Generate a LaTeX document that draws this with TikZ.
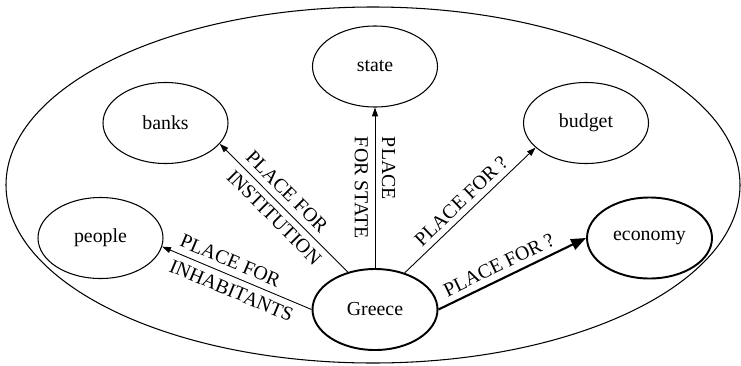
\documentclass[tikz,border=0pt]{standalone}
\usepackage{fontspec}
\setmainfont{Liberation Serif}
\usepackage{tikz}
\usetikzlibrary{arrows.meta,shapes.geometric}

\begin{document}
\begin{tikzpicture}[
  every node/.style={font=\fontsize{11.3}{15.5}\selectfont},
  place/.style={ellipse, draw, line width=0.6pt, minimum width=2.5cm,
    minimum height=1.62cm, inner sep=0pt},
  mainplace/.style={place, line width=1.1pt},
  link/.style={line width=0.5pt, -{Triangle[length=5pt, width=3.4pt]}},
  mainlink/.style={line width=1.2pt, -{Triangle[length=8.5pt, width=6.5pt]}},
  linklabel/.style={midway, sloped, align=left, inner sep=1pt},
]
\useasboundingbox (-7.46,-3.60) rectangle (7.36,3.70);
% outer frame
\draw[line width=0.6pt] (0,0) ellipse [x radius=7.34cm, y radius=3.56cm];
% CENTRE
\node[mainplace] (greece) at (0.04,-2.49) {Greece};
% TOP ROW
\node[place] (state) at (0.04,2.37) {state};
\node[place] (banks) at (-4.15,1.24) {banks};
\node[place] (budget) at (4.26,1.24) {budget};
% SIDES
\node[place] (people) at (-5.45,-1.06) {people};
\node[mainplace] (economy) at (5.53,-1.06) {economy};
% links
\draw[link] (greece.west) -- node[linklabel] {PLACE FOR\\INHABITANTS} (people.-8);
\draw[link] (greece.126) -- node[linklabel] {PLACE FOR\\INSTITUTION} (banks.-21);
\draw[link] (greece.north) -- node[midway, rotate=-90, align=left] {PLACE\\FOR STATE} (state.south);
\draw[link] (greece.51) -- node[midway, sloped, above] {PLACE FOR ?} (budget.206);
\draw[mainlink] (greece.east) -- node[pos=0.45, sloped, above] {PLACE FOR ?} (economy.west);
\end{tikzpicture}
\end{document}
